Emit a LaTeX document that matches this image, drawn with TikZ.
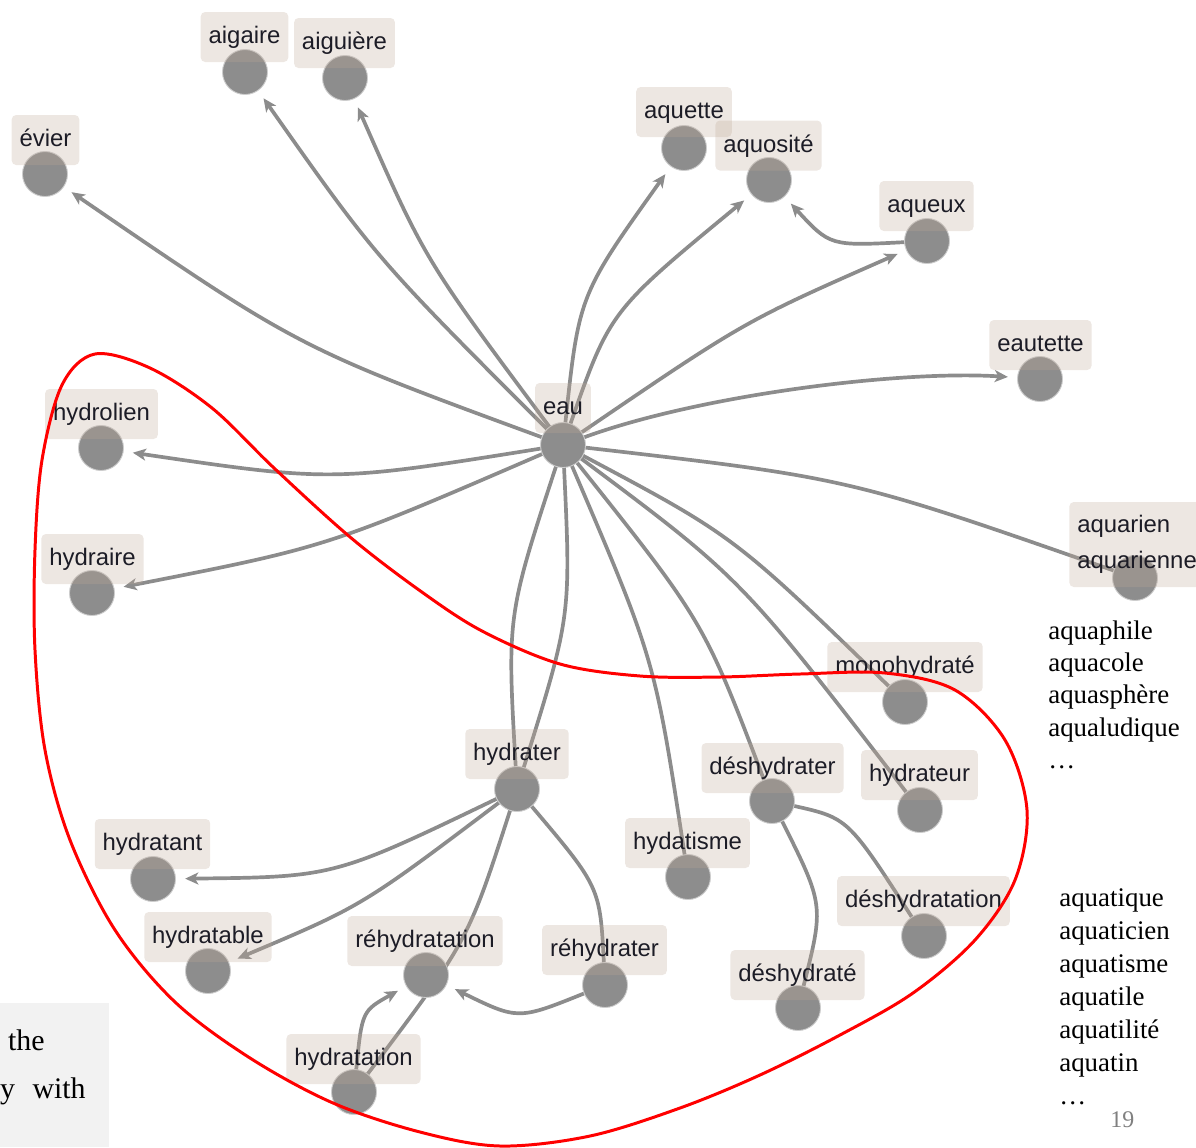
\documentclass[tikz,border=0pt]{standalone}
\usepackage{fontspec}
\setmainfont{Liberation Serif}
\newfontfamily\lblfont{Liberation Sans}
\usetikzlibrary{arrows.meta}
\definecolor{edgegray}{RGB}{140,140,140}
\definecolor{dotgray}{RGB}{141,141,141}
\definecolor{dotrim}{RGB}{205,205,205}
\definecolor{boxbase}{RGB}{191,169,151}
\definecolor{lbltext}{RGB}{28,28,38}
\definecolor{hullred}{RGB}{255,0,0}
\definecolor{pagegray}{RGB}{242,242,242}
\definecolor{pnumgray}{RGB}{128,128,128}
\pgfdeclarelayer{edgelayer}
\pgfdeclarelayer{boxlayer}
\pgfdeclarelayer{toplayer}
\pgfsetlayers{edgelayer,main,boxlayer,toplayer}
\tikzset{
  vdot/.style={circle, fill=dotgray, draw=dotrim, line width=0.5pt, minimum size=0.9cm, inner sep=0pt, outer sep=0pt},
  lblbase/.style={rounded corners=2.5pt, fill=boxbase, fill opacity=0.28, text opacity=1, text=lbltext,
    font=\lblfont\fontsize{13.6}{20.4}\selectfont, inner xsep=4.5pt, inner ysep=0pt, minimum height=1cm},
  lbl/.style={lblbase, text height=10.4pt, text depth=2.9pt},
  link/.style={draw=edgegray, line width=2.1pt},
  linkarr/.style={link, -{Stealth[length=7.5pt,width=6.8pt,inset=2pt]}, shorten >=5.5pt},
  serifword/.style={font=\fontsize{15.3}{18.5}\selectfont, inner sep=0pt, anchor=base west},
  hull/.style={draw=hullred, line width=1.7pt}
}
\begin{document}
\begin{tikzpicture}[x=0.02cm,y=-0.02cm]
\useasboundingbox (0,0) rectangle (1196,1147);

% circles
\node[vdot] (eau) at (563,445) {};
\node[vdot] (evier) at (45,174) {};
\node[vdot] (aigaire) at (245,72) {};
\node[vdot] (aiguiere) at (345,78) {};
\node[vdot] (aquette) at (684,148) {};
\node[vdot] (aquosite) at (769,180) {};
\node[vdot] (aqueux) at (927,241) {};
\node[vdot] (eautette) at (1040,379) {};
\node[vdot] (hydrolien) at (101,448) {};
\node[vdot] (hydraire) at (92,593) {};
\node[vdot] (aquarien) at (1135,578) {};
\node[vdot] (monohydrate) at (905,702) {};
\node[vdot] (hydrateur) at (920,810) {};
\node[vdot] (deshydrater) at (772,801) {};
\node[vdot] (hydatisme) at (688,877) {};
\node[vdot] (hydrater) at (517,789) {};
\node[vdot] (hydratant) at (153,879) {};
\node[vdot] (hydratable) at (208,971) {};
\node[vdot] (rehydratation) at (426,975) {};
\node[vdot] (rehydrater) at (605,985) {};
\node[vdot] (hydratation) at (354,1092) {};
\node[vdot] (deshydratation) at (924,936) {};
\node[vdot] (deshydrate) at (798,1008) {};

% connectors
\begin{pgfonlayer}{edgelayer}
\fill[pagegray] (0,1003) rectangle (109,1147);
\draw[linkarr] (eau) .. controls (299,348) .. (evier);
\draw[linkarr] (eau) .. controls (376,258) .. (aigaire);
\draw[linkarr] (eau) .. controls (425,260) .. (aiguiere);
\draw[linkarr] (eau) .. controls (579,295) .. (aquette);
\draw[linkarr] (eau) .. controls (610,311) .. (aquosite);
\draw[linkarr] (eau) .. controls (745,321) .. (aqueux);
\draw[linkarr] (aqueux) .. controls (830,246) .. (aquosite);
\draw[linkarr] (eau) .. controls (700,395) and (900,370) .. (eautette);
\draw[linkarr] (eau) .. controls (332,482) .. (hydrolien);
\draw[linkarr] (eau) .. controls (327,547) .. (hydraire);
\draw[link] (eau) .. controls (849,478) .. (aquarien);
\draw[link] (eau) .. controls (734,536) .. (monohydrate);
\draw[link] (eau) .. controls (741,578) .. (hydrateur);
\draw[link] (eau) .. controls (704,622) .. (deshydrater);
\draw[link] (eau) .. controls (655,660) .. (hydatisme);
\draw[link] (eau) .. controls (507,616) .. (hydrater);
\draw[link] (eau) .. controls (571,616) .. (hydrater);
\draw[linkarr] (hydrater) .. controls (334,877) .. (hydratant);
\draw[linkarr] (hydrater) .. controls (362,906) .. (hydratable);
\draw[link] (hydrater) .. controls (468,941) .. (hydratation);
\draw[link] (hydrater) .. controls (600,887) .. (rehydrater);
\draw[linkarr] (rehydrater) .. controls (518,1020) .. (rehydratation);
\draw[linkarr] (hydratation) .. controls (362,1011) .. (rehydratation);
\draw[link] (deshydrater) .. controls (848,818) .. (deshydratation);
\draw[link] (deshydrater) .. controls (824,905) .. (deshydrate);
\end{pgfonlayer}

% labels
\begin{pgfonlayer}{boxlayer}
\node[lbl] (l-evier) at (45.5,140) {évier};
\node[lbl] (l-aigaire) at (244.5,37) {aigaire};
\node[lbl] (l-aiguiere) at (344.5,43) {aiguière};
\node[lbl] (l-aquette) at (684,112) {aquette};
\node[lbl] (l-aquosite) at (768.5,145.5) {aquosité};
\node[lbl] (l-aqueux) at (926.5,206) {aqueux};
\node[lbl] (l-eautette) at (1040.5,345) {eautette};
\node[lbl] (l-eau) at (563,408) {eau};
\node[lbl] (l-hydrolien) at (101.5,414) {hydrolien};
\node[lbl] (l-hydraire) at (92.5,559) {hydraire};
\node[lbl] (l-monohydrate) at (905,667) {monohydraté};
\node[lbl] (l-hydrateur) at (919.5,775) {hydrateur};
\node[lbl] (l-deshydrater) at (772.5,768) {déshydrater};
\node[lbl] (l-hydatisme) at (687.5,843) {hydatisme};
\node[lbl] (l-hydrater) at (517,754) {hydrater};
\node[lbl] (l-hydratant) at (152.5,844) {hydratant};
\node[lbl] (l-hydratable) at (208,937) {hydratable};
\node[lbl] (l-rehydratation) at (425,941) {réhydratation};
\node[lbl] (l-rehydrater) at (604.5,950) {réhydrater};
\node[lbl] (l-hydratation) at (353.5,1059) {hydratation};
\node[lbl] (l-deshydratation) at (923.5,901) {déshydratation};
\node[lbl] (l-deshydrate) at (797.5,975) {déshydraté};
\node[lblbase, align=left, anchor=west, minimum height=1.7cm] (l-aquarien) at (1069,544.5) {aquarien\\aquarienne};
\end{pgfonlayer}

% side word lists
\foreach \w [count=\i from 0] in {aquaphile,aquacole,aquasphère,aqualudique,…}
  \node[serifword] (wa-\i) at (1048,639+32.4*\i) {\w};
\foreach \w [count=\i from 0] in {aquatique,aquaticien,aquatisme,aquatile,aquatilité,aquatin,…}
  \node[serifword] (wb-\i) at (1059,906.5+33*\i) {\w};
\node[font=\fontsize{13.6}{16}\selectfont, text=pnumgray, inner sep=0pt, anchor=base west] (pnum) at (1110,1127) {19};

% cut-off text at bottom left
\node[font=\fontsize{17}{20}\selectfont, inner sep=0pt, anchor=base east] (frag1) at (45,1050) {the};
\node[font=\fontsize{17}{20}\selectfont, inner sep=0pt, anchor=base east] (frag2) at (86,1098) {y\hspace{10pt}with};

% red outline
\begin{pgfonlayer}{toplayer}
\draw[hull] plot[smooth cycle, tension=0.55] coordinates {
  (95,354) (150,368) (212,408) (274,468) (350,537) (419,590) (482,631)
  (560,664) (640,676) (720,677) (800,674) (885,673) (955,690) (1005,740)
  (1027,810) (1015,880) (975,940) (913,993) (840,1035) (760,1075)
  (680,1108) (590,1136) (500,1146) (420,1132) (333,1103) (250,1058)
  (175,1002) (115,930) (70,840) (45,750) (35,650) (35,550) (42,460) (62,385)};
\end{pgfonlayer}
\end{tikzpicture}
\end{document}
